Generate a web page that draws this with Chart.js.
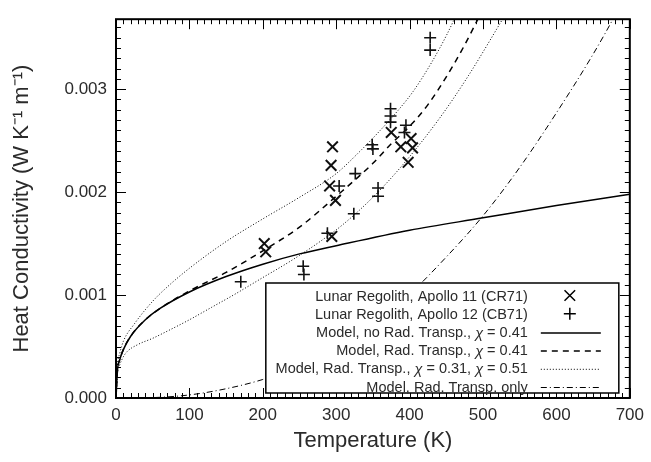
<!DOCTYPE html>
<html>
<head>
<meta charset="utf-8">
<script src="https://cdn.jsdelivr.net/npm/chart.js@4.4.1/dist/chart.umd.min.js"></script>
<style>
  html, body { margin: 0; padding: 0; background: #fff; }
</style>
</head>
<body>
<canvas id="myChart" width="651" height="462"></canvas>
<script>
// measured points (temperature in K, conductivity in W/K/m)
const apollo11T = [202, 204, 294, 299, 291, 293, 295, 375, 388, 402, 404, 398];
const apollo11K = [0.00150, 0.00142, 0.00157, 0.00192, 0.00206, 0.00226, 0.00244, 0.00258, 0.00244, 0.00252, 0.00243, 0.00229];

const apollo12T = [170, 255, 256, 288, 304, 324, 326, 349, 350, 357, 357, 374, 374, 374, 393, 395, 428, 428];
const apollo12K = [0.00113, 0.00128, 0.00120, 0.00160, 0.00206, 0.00179, 0.00218, 0.00246, 0.00242, 0.00204, 0.00196, 0.00281, 0.00274, 0.00268, 0.00258, 0.00265, 0.00350, 0.00338];

// model curves
const noRadT = [0, 2, 5, 10, 20, 40, 60, 100, 150, 200, 250, 300, 400, 500, 600, 700];
const noRadK = [0, 0.00027, 0.00037, 0.00047, 0.0006, 0.00076, 0.00087, 0.00103, 0.00118, 0.0013, 0.0014, 0.00148, 0.00163, 0.00175, 0.00187, 0.00198];

const radT = [0, 2, 5, 10, 20, 40, 60, 100, 150, 200, 250, 300, 350, 375, 400, 425, 450, 475, 500];
const radK = [0, 0.00027, 0.00037, 0.00047, 0.0006, 0.00076, 0.00087, 0.00104, 0.00122, 0.00143, 0.00166, 0.00196, 0.00228, 0.00247, 0.00264, 0.00285, 0.00312, 0.00343, 0.00378];

const radHiT = [0, 2, 5, 10, 25, 50, 70, 100, 150, 200, 250, 300, 330, 360, 385, 405, 430, 450, 470];
const radHiK = [0, 0.00032, 0.00043, 0.00055, 0.00072, 0.00094, 0.00108, 0.00126, 0.00152, 0.00174, 0.00195, 0.00218, 0.00238, 0.0026, 0.0028, 0.00298, 0.00326, 0.00352, 0.00382];

const radLoT = [0, 2, 5, 10, 15, 30, 50, 70, 100, 130, 160, 200, 240, 280, 310, 350, 390, 440, 480, 535];
const radLoK = [0, 0.00024, 0.00032, 0.0004, 0.00045, 0.00052, 0.00058, 0.00065, 0.00076, 0.00088, 0.001, 0.00117, 0.00134, 0.00153, 0.00169, 0.00195, 0.00226, 0.00271, 0.00313, 0.00378];

const radOnlyT = [0, 50, 100, 150, 200, 250, 300, 350, 400, 450, 500, 550, 600, 650, 680, 700];
const radOnlyK = [0, 0.000004, 0.00003, 0.00009, 0.00018, 0.00031, 0.00049, 0.00073, 0.00101, 0.00137, 0.00177, 0.00224, 0.00277, 0.00334, 0.00372, 0.004];

const yTicks = [0, 0.001, 0.002, 0.003];
const xTicks = [0, 100, 200, 300, 400, 500, 600, 700];

const toXY = (xs, ys) => xs.map((x, i) => ({x: x, y: ys[i]}));

function curve(label, xs, ys, dash, width, inLegend) {
    return {
        label: label,
        data: toXY(xs, ys),
        showLine: true,
        borderColor: '#000',
        backgroundColor: '#000',
        borderWidth: width,
        borderDash: dash,
        pointRadius: 0,
        cubicInterpolationMode: 'monotone',
        inLegend: inLegend
    };
}

const fontFamily = '"Liberation Sans", Arial, Helvetica, sans-serif';
const textColor = '#2b2b2b';

// inward ticks on all four sides + frame
const frameTicks = {
    id: 'frameTicks',
    afterDatasetsDraw(chart) {
        const {ctx, chartArea: a, scales: {x, y}} = chart;
        ctx.save();
        ctx.strokeStyle = '#000';
        ctx.lineWidth = 1;
        ctx.beginPath();
        for (let i = 0; i <= 70; i++) {
            const px = Math.round(x.getPixelForValue(i * 10)) + 0.5;
            const len = i % 10 === 0 ? 10 : 5;
            ctx.moveTo(px, a.bottom); ctx.lineTo(px, a.bottom - len);
            ctx.moveTo(px, a.top); ctx.lineTo(px, a.top + len);
        }
        for (let i = 0; i <= 36; i++) {
            const py = Math.round(y.getPixelForValue(i * 0.0001)) + 0.5;
            const len = i % 10 === 0 ? 10 : 5;
            ctx.moveTo(a.left, py); ctx.lineTo(a.left + len, py);
            ctx.moveTo(a.right, py); ctx.lineTo(a.right - len, py);
        }
        ctx.stroke();
        ctx.lineWidth = 2;
        ctx.strokeRect(a.left, a.top, a.right - a.left, a.bottom - a.top);
        ctx.restore();
    }
};

// right aligned text, chi drawn in italic
function drawLabel(ctx, text, right, y) {
    const plain = '14.5px ' + fontFamily;
    const ital = 'italic 14.5px ' + fontFamily;
    const parts = text.split('\u03c7');
    let x = right;
    for (let i = parts.length - 1; i >= 0; i--) {
        ctx.font = plain;
        ctx.fillText(parts[i], x, y);
        x -= ctx.measureText(parts[i]).width;
        if (i > 0) {
            ctx.font = ital;
            ctx.fillText('\u03c7', x, y + 1);
            x -= ctx.measureText('\u03c7').width;
        }
    }
}

// boxed legend, labels right aligned and symbols on the right
const boxLegend = {
    id: 'boxLegend',
    afterDatasetsDraw(chart) {
        const {ctx, chartArea: a} = chart;
        const w = 353, h = 110;
        const left = a.right - 11 - w, top = a.bottom - 5 - h;
        ctx.save();
        ctx.fillStyle = '#fff';
        ctx.fillRect(left, top, w, h);
        ctx.strokeStyle = '#000';
        ctx.lineWidth = 1.5;
        ctx.strokeRect(left, top, w, h);

        const rows = chart.data.datasets.filter(d => d.inLegend);
        ctx.textAlign = 'right';
        ctx.textBaseline = 'middle';
        rows.forEach((d, i) => {
            const cy = top + 12.5 + i * 18.2;
            ctx.fillStyle = textColor;
            drawLabel(ctx, d.label, left + 262, cy + 1);
            const sx = left + 304;
            ctx.strokeStyle = '#000';
            if (d.showLine) {
                ctx.lineWidth = d.borderWidth;
                ctx.setLineDash(d.borderDash || []);
                ctx.beginPath();
                ctx.moveTo(sx - 29, cy + 1);
                ctx.lineTo(sx + 31, cy + 1);
                ctx.stroke();
                ctx.setLineDash([]);
            } else {
                Chart.helpers.drawPoint(ctx, {
                    pointStyle: d.pointStyle,
                    radius: d.pointRadius,
                    borderWidth: d.borderWidth
                }, sx, cy);
            }
        });
        ctx.restore();
    }
};

const ctx = document.getElementById('myChart');

const chart = new Chart(ctx, {
    type: 'scatter',
    data: {
        datasets: [
            {
                label: 'Lunar Regolith, Apollo 11 (CR71)',
                data: toXY(apollo11T, apollo11K),
                pointStyle: 'crossRot',
                pointRadius: 7.5,
                borderWidth: 2,
                borderColor: '#111',
                backgroundColor: '#111',
                inLegend: true
            },
            {
                label: 'Lunar Regolith, Apollo 12 (CB71)',
                data: toXY(apollo12T, apollo12K),
                pointStyle: 'cross',
                pointRadius: 6,
                borderWidth: 1.6,
                borderColor: '#111',
                backgroundColor: '#111',
                inLegend: true
            },
            curve('Model, no Rad. Transp., \u03c7 = 0.41', noRadT, noRadK, [], 1.5, true),
            curve('Model, Rad. Transp., \u03c7 = 0.41', radT, radK, [6, 5], 1.5, true),
            curve('Model, Rad. Transp., \u03c7 = 0.31, \u03c7 = 0.51', radLoT, radLoK, [1, 2], 1, true),
            curve('Model, Rad. Transp., \u03c7 = 0.51', radHiT, radHiK, [1, 2], 1, false),
            curve('Model, Rad. Transp. only', radOnlyT, radOnlyK, [6, 3, 1, 3], 1, true)
        ]
    },
    options: {
        responsive: false,
        animation: false,
        layout: { padding: { top: 12, right: 19, left: 0, bottom: 0 } },
        plugins: {
            legend: { display: false },
            tooltip: { enabled: false }
        },
        scales: {
            x: {
                type: 'linear',
                min: 0,
                max: 700,
                afterFit: (s) => { s.height = 64; },
                afterBuildTicks: (s) => { s.ticks = xTicks.map(v => ({value: v})); },
                grid: { display: false, drawTicks: false },
                border: { display: false },
                ticks: {
                    padding: 7,
                    color: textColor,
                    font: { size: 17, family: fontFamily },
                    maxRotation: 0
                },
                title: {
                    display: true,
                    text: 'Temperature (K)',
                    color: textColor,
                    font: { size: 22, family: fontFamily },
                    padding: { top: 0, bottom: 8 }
                }
            },
            y: {
                type: 'linear',
                min: 0,
                max: 0.00368,
                afterFit: (s) => { s.width = 116; },
                afterBuildTicks: (s) => { s.ticks = yTicks.map(v => ({value: v})); },
                grid: { display: false, drawTicks: false },
                border: { display: false },
                ticks: {
                    padding: 9,
                    color: textColor,
                    font: { size: 17, family: fontFamily },
                    callback: (v) => v.toFixed(3)
                },
                title: {
                    display: true,
                    text: 'Heat Conductivity (W K\u207b\u00b9 m\u207b\u00b9)',
                    color: textColor,
                    font: { size: 22, family: fontFamily },
                    padding: { top: 9, bottom: 0 }
                }
            }
        }
    },
    plugins: [frameTicks, boxLegend]
});
</script>
</body>
</html>
